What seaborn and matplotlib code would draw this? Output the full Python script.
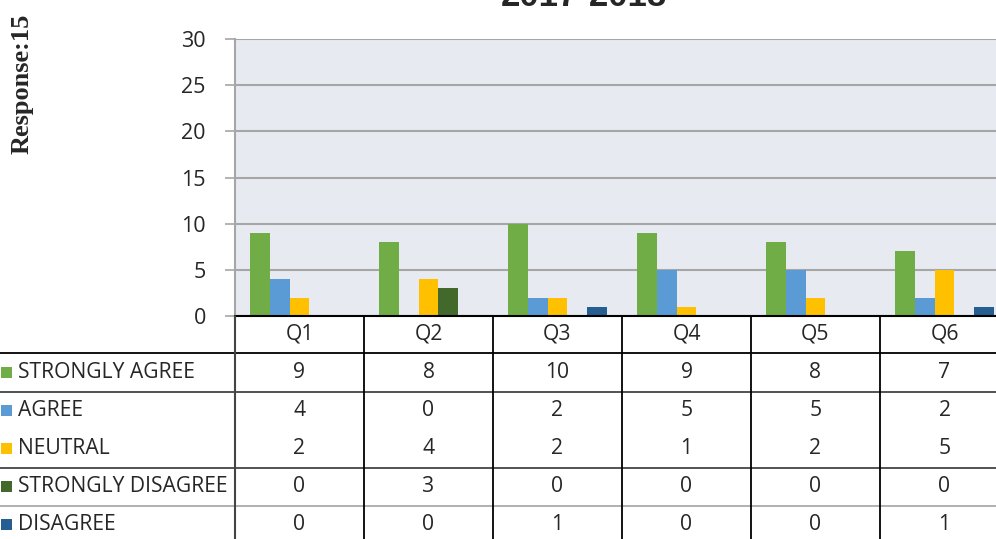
import pandas as pd
import matplotlib
matplotlib.use('Agg')
import matplotlib.pyplot as plt
import matplotlib.transforms as mtransforms
import seaborn as sns

questions = ['Q1', 'Q2', 'Q3', 'Q4', 'Q5', 'Q6']
responses = ['STRONGLY AGREE', 'AGREE', 'NEUTRAL', 'STRONGLY DISAGREE', 'DISAGREE']
strongly_agree = [9, 8, 10, 9, 8, 7]
agree = [4, 0, 2, 5, 5, 2]
neutral = [2, 4, 2, 1, 2, 5]
strongly_disagree = [0, 3, 0, 0, 0, 0]
disagree = [0, 0, 1, 0, 0, 1]
colors = ['#70ad47', '#5b9bd5', '#ffc000', '#43682b', '#255e91']
y_ticks = [0, 5, 10, 15, 20, 25, 30]

series = [strongly_agree, agree, neutral, strongly_disagree, disagree]
rows = []
for r, vals in zip(responses, series):
    for q, v in zip(questions, vals):
        rows.append({'Question': q, 'Response': r, 'Count': v})
df = pd.DataFrame(rows)

sns.set_theme(style='white')
plt.rcParams['font.family'] = ['Open Sans', 'DejaVu Sans']

W, H = 996, 539
fs = 15.2
fig = plt.figure(figsize=(W / 100, H / 100), dpi=100)

# plot area (right side runs off the picture like the original)
left, right, top, bottom = 235, 1009, 39, 316
ax = fig.add_axes([left / W, 1 - bottom / H, (right - left) / W, (bottom - top) / H])
ax.set_facecolor('#e7eaf0')
sns.barplot(data=df, x='Question', y='Count', hue='Response', hue_order=responses,
            palette=colors, width=0.775, linewidth=0, saturation=1, ax=ax, legend=False)
ax.set_xlim(-0.5, len(questions) - 0.5)
ax.set_ylim(0, 30)
ax.set_yticks(y_ticks)
ax.yaxis.grid(True, color='#a6a6a6', linewidth=1.5)
ax.set_axisbelow(True)
ax.set_xticks([])
ax.set_xlabel('')
ax.set_ylabel('')
for s in ['top', 'right']:
    ax.spines[s].set_visible(False)
ax.spines['left'].set_color('#a6a6a6')
ax.spines['left'].set_linewidth(1.5)
ax.spines['bottom'].set_color('black')
ax.spines['bottom'].set_linewidth(1.5)
ax.tick_params(axis='y', left=True, length=7, width=1.2, color='#a6a6a6',
               labelsize=15.5, pad=14)

# overlay in pixel coords for the data table
ov = fig.add_axes([0, 0, 1, 1], facecolor='none')
ov.set_xlim(0, W)
ov.set_ylim(H, 0)
ov.axis('off')
blend = mtransforms.blended_transform_factory(ax.transData, ov.transData)

row_y = [373, 411, 449, 487, 525]
for y, c in [(353, 'black'), (392, '#444444'), (468, '#444444'), (506, '#aaaaaa')]:
    ov.plot([0, W], [y, y], color=c, lw=1.3)
ov.plot([left, left], [bottom, H], color='#444444', lw=1.5)
for i in range(len(questions) - 1):
    ov.plot([i + 0.5, i + 0.5], [bottom, H], color='black', lw=1.3, transform=blend)

for i, q in enumerate(questions):
    ov.text(i, 334, q, transform=blend, ha='center', va='center', fontsize=fs)
    for y, vals in zip(row_y, series):
        ov.text(i, y, str(vals[i]), transform=blend, ha='center', va='center', fontsize=fs)

for y, r, c in zip(row_y, responses, colors):
    ov.add_patch(plt.Rectangle((1, y - 6), 11, 11, color=c, lw=0))
    ov.text(18, y, r, ha='left', va='center', fontsize=fs)

fig.text(584 / W, 1 - 6 / H, '2017-2018', ha='center', va='baseline',
         fontsize=25, fontweight='bold', family='Liberation Sans')
fig.text(22 / W, 1 - 84 / H, 'Response:15', rotation=90, ha='center', va='center',
         fontsize=19, fontweight='bold', family='Liberation Serif')

fig.savefig('out.png', dpi=100)
